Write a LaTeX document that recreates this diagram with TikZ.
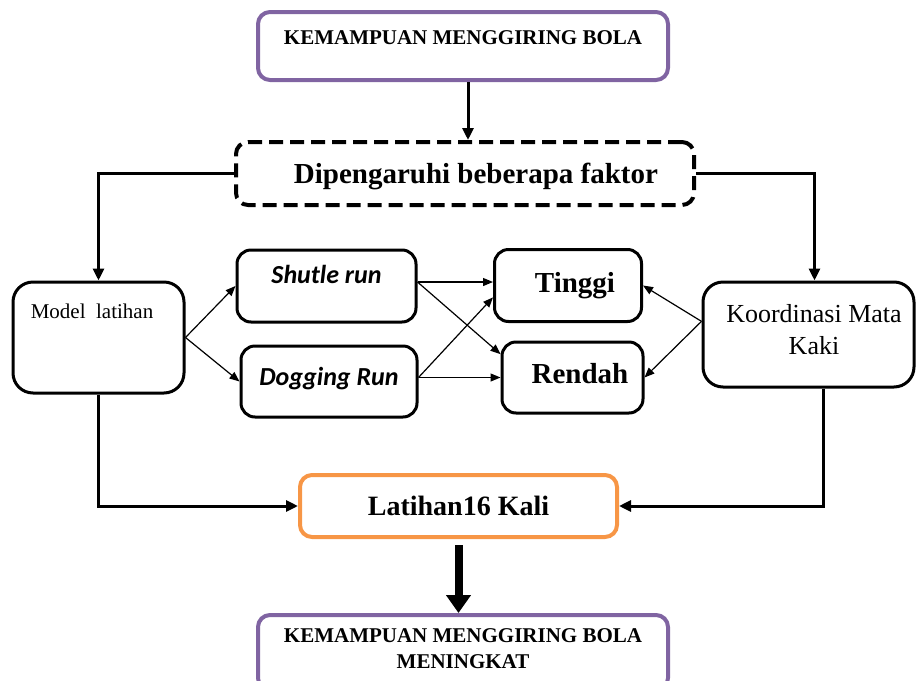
\documentclass[tikz,border=0pt]{standalone}
\usepackage{fontspec}
\setmainfont{Liberation Serif}
\newfontfamily\calibrifont{Carlito}
\usetikzlibrary{positioning, arrows.meta}
\definecolor{purpleline}{HTML}{8064A2}
\definecolor{orangeline}{HTML}{F79646}
\tikzset{
	every text node part/.style={align=center},
	box/.style={rectangle, draw, line width=1.5pt, rounded corners=8pt, inner sep=0pt},
	boxdim/.style n args={3}{minimum width=#1, text height=#2, text depth=#3},
	goal/.style={box, draw=purpleline, line width=2pt, rounded corners=6pt,
		font=\fontsize{10.5}{13}\selectfont\bfseries},
	factor/.style={box, line width=2pt, dash pattern=on 7pt off 3.5pt, rounded corners=6pt,
		font=\fontsize{14.5}{17}\selectfont\bfseries},
	drill/.style={box, rounded corners=7pt, font=\fontsize{13}{16}\selectfont\calibrifont\bfseries\itshape},
	level/.style={box, rounded corners=7pt, font=\fontsize{14.5}{17}\selectfont\bfseries},
	aspect/.style={box, rounded corners=10pt, font=\fontsize{13}{16}\selectfont},
	session/.style={box, draw=orangeline, line width=2pt, rounded corners=6pt,
		font=\fontsize{14}{17}\selectfont\bfseries},
	link/.style={line width=1.5pt, -{Triangle[length=6pt,width=5.5pt]}},
	cross/.style={line width=0.6pt, -{Triangle[length=5pt,width=4pt]}},
	bigarrow/.style={line width=4pt, -{Triangle[length=9pt,width=12pt]}},
}
\begin{document}
\begin{tikzpicture}[x=0.5pt, y=-0.5pt]
	\useasboundingbox (0,0) rectangle (917,681);
	
	\node (goal)[goal, boxdim={205pt}{16pt}{18pt}] at (463,46) {KEMAMPUAN MENGGIRING BOLA};
	\node (factor)[factor, boxdim={229pt}{20.5pt}{11pt}] at (465,173.5) {\hspace*{11pt}Dipengaruhi beberapa faktor};
	
	\node (model)[aspect, font=\fontsize{10.5}{13}\selectfont, boxdim={85.5pt}{18pt}{37.5pt}] at (98.5,337.5) {Model~~latihan\hspace*{6.5pt}};
	\node (shutle)[drill, boxdim={89.5pt}{16.5pt}{19.5pt}] at (326.5,286) {Shutle run};
	\node (dogging)[drill, boxdim={88pt}{19.5pt}{16pt}] at (329,381.5) {Dogging Run};
	\node (tinggi)[level, boxdim={73.5pt}{21.5pt}{14.5pt}] at (568,285.5) {\hspace*{7pt}Tinggi};
	\node (rendah)[level, boxdim={70.5pt}{20.5pt}{15pt}] at (572.5,377.5) {\hspace*{7.5pt}Rendah};
	\node (koord)[aspect, boxdim={105.5pt}{36pt}{16.5pt}] at (808.5,334.5) {\hspace*{5.5pt}Koordinasi Mata\\\hspace*{5.5pt}Kaki};
	
	\node (session)[session, boxdim={158.5pt}{20pt}{11pt}] at (458.5,506) {Latihan16 Kali};
	\node (result)[goal, boxdim={205pt}{26.5pt}{11pt}] at (463,652.5) {KEMAMPUAN MENGGIRING BOLA\\MENINGKAT};
	
	\coordinate (shutleout) at ([yshift=2pt]shutle.east);
	\coordinate (doggingout) at ([yshift=2pt]dogging.east);
	\coordinate (koordout) at (koord.173);
	
	\draw[link] ([xshift=2.5pt]goal.south) -- ([xshift=2.5pt]goal.south |- factor.north);
	\draw[link] (factor.west) -| (model.north);
	\draw[link] (factor.east) -| ([xshift=3pt]koord.north);
	
	\draw[cross] (model.east) -- (shutle.west);
	\draw[cross] (model.east) -- (dogging.west);
	\draw[cross] (shutleout) -- (shutleout -| tinggi.west);
	\draw[cross] (doggingout) -- (doggingout -| rendah.west);
	\foreach \from/\to in {shutleout/rendah.162, doggingout/tinggi.189,
		koordout/tinggi.east, koordout/rendah.east}
	{
		\draw[cross] (\from) -- (\to);
	}
	
	\draw[link] (model.south) |- (session.west);
	\draw[link] ([xshift=7.25pt]koord.south) |- (session.east);
	\draw[bigarrow] ([yshift=-3pt]session.south) -- (session.south |- result.north);
	
\end{tikzpicture}
\end{document}
